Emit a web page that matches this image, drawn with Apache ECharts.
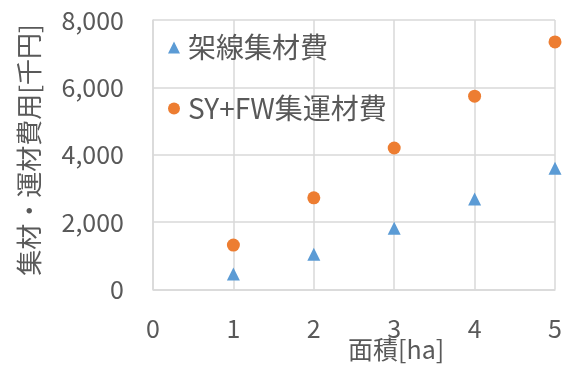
<!DOCTYPE html>
<html>
<head>
<meta charset="utf-8">
<script src="https://cdn.jsdelivr.net/npm/echarts@6/dist/echarts.min.js"></script>
<style>
  html, body { margin: 0; padding: 0; background: #fff; }
  #chart { width: 573px; height: 367px; }
</style>
</head>
<body>
<div id="chart"></div>
<script>
// Area [ha] and cost [thousand yen] for the two harvesting systems
var areas = [1, 2, 3, 4, 5];
var cableYarding = [460, 1050, 1820, 2690, 3600];
var syFwYarding = [1320, 2720, 4200, 5740, 7350];
var seriesNames = ['架線集材費', 'SY+FW集運材費'];
var xAxisTitle = '面積[ha]';
var yAxisTitle = '集材・運材費用[千円]';

var FONT = '"Noto Sans CJK JP", "Noto Sans", sans-serif';
var TEXT = '#595959';
var GRID = '#d9d9d9';

function pairs(xs, ys) {
  return xs.map(function (x, i) { return [x, ys[i]]; });
}

var chart = echarts.init(document.getElementById('chart'), null, { renderer: 'canvas' });
chart.setOption({
  animation: false,
  backgroundColor: '#ffffff',
  textStyle: { fontFamily: FONT },
  grid: { left: 153, right: 18, top: 20, bottom: 77.5, containLabel: false },
  legend: {
    orient: 'vertical',
    left: 163,
    top: 28,
    itemWidth: 12,
    itemHeight: 12,
    itemGap: 32,
    data: [
      { name: seriesNames[0], icon: 'triangle' },
      { name: seriesNames[1], icon: 'circle' }
    ],
    textStyle: { fontFamily: FONT, fontSize: 28, color: TEXT, lineHeight: 29, padding: [0, 0, 0, 3] }
  },
  xAxis: {
    type: 'value',
    min: 0, max: 5, interval: 1,
    axisLine: { show: true, lineStyle: { color: GRID, width: 1.5 } },
    axisTick: { show: false },
    splitLine: { show: true, lineStyle: { color: GRID, width: 1.5 } },
    axisLabel: { color: TEXT, fontSize: 25, fontFamily: FONT, margin: 26 }
  },
  yAxis: {
    type: 'value',
    min: 0, max: 8000, interval: 2000,
    axisLine: { show: true, lineStyle: { color: GRID, width: 1.5 } },
    axisTick: { show: false },
    splitLine: { show: true, lineStyle: { color: GRID, width: 1.5 } },
    axisLabel: {
      color: TEXT, fontSize: 25, fontFamily: FONT, margin: 29,
      formatter: function (v) { return v.toLocaleString('en-US'); }
    }
  },
  graphic: [
    {
      type: 'text',
      left: 398 - 50,
      top: 337,
      style: { text: xAxisTitle, fill: TEXT, font: '25px ' + FONT, width: 100, align: 'center' }
    },
    {
      type: 'text',
      x: 29,
      y: 150,
      rotation: Math.PI / 2,
      style: { text: yAxisTitle, fill: TEXT, font: '26px ' + FONT, align: 'center', verticalAlign: 'middle' }
    }
  ],
  series: [
    {
      name: seriesNames[0],
      type: 'scatter',
      symbol: 'triangle',
      symbolSize: 13,
      itemStyle: { color: '#5b9bd5', opacity: 1 },
      data: pairs(areas, cableYarding)
    },
    {
      name: seriesNames[1],
      type: 'scatter',
      symbol: 'circle',
      symbolSize: 13,
      itemStyle: { color: '#ed7d31', opacity: 1 },
      data: pairs(areas, syFwYarding)
    }
  ]
});
</script>
</body>
</html>
